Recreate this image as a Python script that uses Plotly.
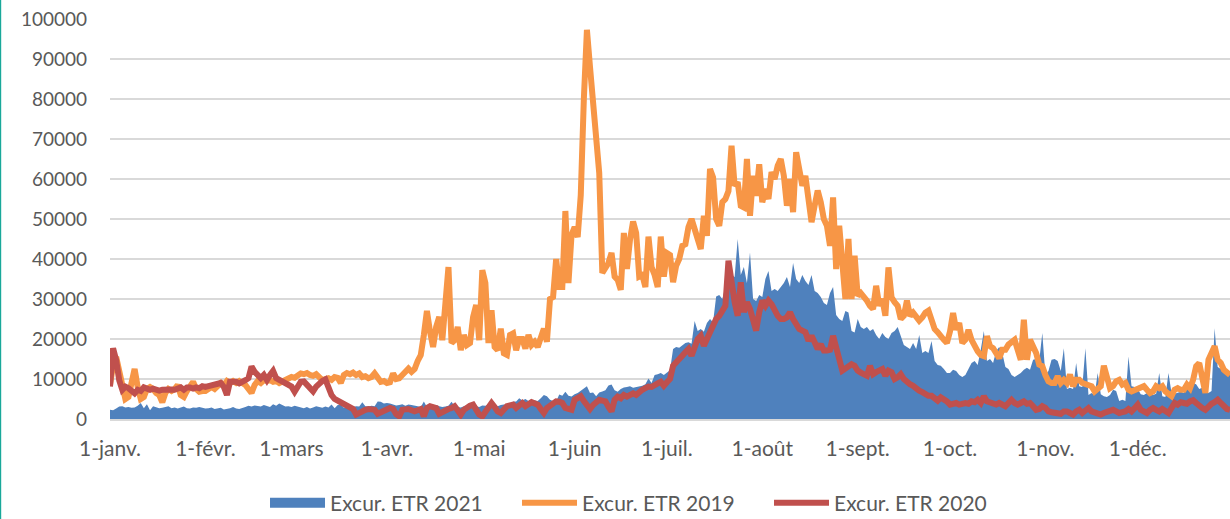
import plotly.graph_objects as go

# ---- axis ticks ----
month_ticks = [0, 31, 59, 90, 120, 151, 181, 212, 243, 273, 304, 334]
month_labels = ["1-janv.", "1-févr.", "1-mars", "1-avr.", "1-mai", "1-juin",
                "1-juil.", "1-août", "1-sept.", "1-oct.", "1-nov.", "1-déc."]
y_ticks = [0, 10000, 20000, 30000, 40000, 50000, 60000, 70000, 80000, 90000, 100000]

# ---- Excur. ETR 2021 (area) ----
jan21 = [2300,2200,2600,3100,3200,2900,3000,2800,2900,3300,4000,2700,3700,2200,3200,2900,2700,2800,3000,3200,2700,2900,2600,2800,3100,2700,2600,2900,2800,3000,2700]
feb21 = [2600,2700,2900,2500,2600,2800,2400,2500,2700,3000,2600,2500,2700,3000,3300,3100,3400,3200,3100,3500,3200,3000,3700,3300,3900,3400,3100,3200]
mar21 = [3000,3300,3100,2800,2700,3000,2600,2900,3200,3000,2800,3100,2900,3600,2700,3500,3600,2800,2900,3200,3000,3200,3100,4200,3200,3100,3300,3200,4400,4300,3900]
apr21 = [4000,3900,3600,3400,3500,3700,3300,3600,3500,3400,3200,3000,4400,3000,3200,3100,3500,3200,3000,3100,3300,4300,3200,3000,2900,3200,3100,3300,4300,3200]
may21 = [3000,3400,3300,3600,3500,3400,3200,3500,3600,3500,4000,4300,4400,5200,4600,5000,4500,4300,4600,4500,5200,6000,5700,4800,4500,4400,6100,5800,6800,5800,5600]
jun21 = [6200,6500,7000,7700,8200,6500,6600,5700,6600,6900,7200,8400,8600,7200,6800,7500,7900,8000,8200,7800,8000,8100,8300,8700,10100,9000,11000,11200,11500,11000]
jul21 = [11500,12200,17500,18000,17800,18500,19000,19200,18800,24500,22000,22500,21800,24000,25000,24200,30600,31000,30000,33000,36500,36000,35500,45000,36000,38000,34000,41600,30000,29500,31000]
aug21 = [30500,35000,37000,32000,32500,32000,33000,34000,35500,33000,39000,35000,34000,36000,34500,33500,36000,32000,31500,30500,29000,28500,31500,33000,26000,25000,24500,27000,26600,22000,21600]
sep21 = [25000,23000,22500,23000,22000,22500,21000,20000,21500,20500,20000,21500,22000,23000,20600,18500,18000,17500,19000,17500,21000,16500,17000,16500,19500,14500,13500,13300,12500,11500]
oct21 = [11500,12300,12000,11000,10500,11000,12500,14000,14500,13500,17300,22000,14500,15000,14000,17000,18000,16500,13000,12500,11000,10500,11000,11500,12300,12800,12300,14800,15000,14500,21500]
nov21 = [11000,12000,14800,15000,14500,12000,17700,7500,7800,7500,14000,8200,8000,17700,6000,6500,6000,11500,6200,5700,5500,6000,7300,7000,4500,4800,4500,15600,8200,8000]
dec21 = [7500,6200,6000,6500,6200,6000,6300,11500,5700,5500,11500,6500,6300,6500,6800,6500,8700,8500,9000,8700,7500,7800,7200,6500,7000,22700,13000,12500,13000,12300,11000]

# ---- Excur. ETR 2019 (orange line) ----
jan19 = [8500,13500,15500,12000,8000,5000,5500,9000,12500,8000,5000,5500,7500,8000,7500,6500,6000,4200,6500,7500,7000,7500,8500,6000,5500,7000,8500,9300,7500,6800,7000]
feb19 = [7000,7500,8000,7500,8500,9000,8500,9500,9000,9500,9000,9500,9000,8500,7500,6500,8500,9500,9000,9700,9500,9700,9300,9500,9000,9300,9500,10000]
mar19 = [10500,10300,10700,11400,11200,11500,11000,10800,11200,10500,9700,10000,10200,9800,10500,10300,9000,11000,11500,11200,11600,11000,11400,10500,10700,10200,10500,11400,10500,9300,9500]
apr19 = [9000,9200,11400,10000,10200,11000,12000,12600,11800,12500,14500,16000,21000,27000,21800,18000,23000,25500,19700,28000,38000,19000,19700,23000,17200,21000,18500,19000,25500,28500]
may19 = [19700,37200,34000,19000,27200,18000,17200,22600,16400,16000,21000,21400,17200,20000,20000,17600,21000,18500,19300,18000,20000,22600,19300,30000,30500,40000,33000,33000,52000,34000,46000]
jun19 = [48000,45500,56000,80000,97300,88000,78000,70000,61500,36500,38000,39000,41500,35600,34800,32300,46500,37500,44800,49400,46500,35600,36000,33000,45600,38000,36000,33000,45600,35600]
jul19 = [41500,41000,34200,38300,40000,43300,43700,48000,50000,47500,45000,42500,50800,45800,62500,60400,50000,48300,54200,55000,57000,68300,58300,59200,53300,52900,65000,50800,60800,55800,63700]
aug19 = [54200,57500,55000,61700,60000,63300,65000,60800,53300,60000,51700,66700,63300,58300,60800,54200,49200,53300,57100,54200,50000,48300,43300,55400,37500,48300,40000,30000,45000,30000,40800]
sep19 = [30800,31500,30800,29600,28300,27500,33300,28300,30000,25800,37900,30400,29200,28300,25000,25800,29600,25800,26600,25800,24600,25400,26600,27100,24200,22500,21700,20400,19800,19000]
oct19 = [21900,26500,22300,24000,19000,19800,22300,19800,18200,16900,16000,15700,20700,18200,17700,16500,15200,17300,17300,18600,19000,19800,17300,14800,24800,14800,19800,18200,16500,13600,13200]
nov19 = [11000,9400,9000,9000,10700,9000,9800,9000,11100,8200,9800,9800,9000,8600,8200,8200,6900,7500,8200,13300,10700,7700,8200,9400,9800,8600,9000,7300,6900,7300]
dec19 = [7300,7700,8200,7300,6500,6900,8200,7700,8200,6900,6500,5700,7300,7700,7300,7300,8600,7700,9800,13200,14000,10700,6500,14800,16500,18200,14800,14000,12300,11500,11000]

# ---- Excur. ETR 2020 (red line) ----
jan20 = [8100,17700,14700,9700,7300,8100,7700,6800,6400,7300,7000,7900,7600,7300,7600,7300,7100,7300,7400,7300,7400,7300,7600,7900,7300,7900,7900,7600,7900,7700,8200]
feb20 = [8000,8200,8400,8500,8900,9000,8000,6000,9300,9300,9300,8900,9500,9700,10200,13100,11800,11000,10200,11000,9700,11000,12000,10200,9700,9300,8800,8500]
mar20 = [8100,6800,8500,9300,9400,8500,8000,6900,8100,9000,9500,9900,7700,6000,5000,4600,4200,3800,3300,2800,2500,1100,1600,2200,2300,2500,2400,2300,1300,1700,1900]
apr20 = [2600,2750,2500,1200,670,2300,2400,2500,2200,1900,2200,2500,670,2750,3200,3000,2750,1300,1800,2300,2500,2750,3200,2200,1100,2300,2900,3300,3600,2500]
may20 = [1100,670,2000,2750,4000,3000,1900,1500,2300,3200,3400,3600,2750,3400,4000,3200,3700,4200,3900,3600,2500,1500,2750,3200,3800,4400,4300,4000,2750,2500,2300]
jun20 = [4800,5200,5700,4500,3600,2500,3500,4400,4800,4600,4400,3000,1900,4800,5600,5200,6000,5600,6200,6400,6000,6800,7300,7700,8100,8000,8600,8900,9300,8300]
jul20 = [9200,10000,13300,14000,15000,15800,16700,17500,15800,18300,20000,20800,18300,20000,21500,23700,25000,25800,27500,28300,39600,33300,29200,25800,34200,26700,29200,27500,25000,22100,26700]
aug20 = [29600,28300,29600,28700,27100,25800,25000,25000,25400,26700,25000,23300,22500,22100,21700,19600,20800,19200,17500,18700,17100,17100,17300,20800,17100,15000,12100,12500,12900,13700,13300]
sep20 = [12100,11600,11200,10800,13300,11200,11700,12100,12500,10800,12100,11700,10000,10400,11200,10000,9200,8700,8300,7500,7100,6700,6200,5800,5800,5400,4600,5400,5000,4400]
oct20 = [3600,4000,4000,3600,3800,4000,3800,4400,4200,4800,4000,5700,4400,4000,4000,3600,4000,3500,3200,4000,4800,4000,3600,4000,4400,3800,4000,3200,2300,2500,3200]
nov20 = [2800,1900,1700,1500,1400,1300,1900,1900,1500,1100,1900,2300,1500,2300,2750,1900,1500,1300,1100,1500,1900,2150,2300,1900,1500,1700,1900,2500,1900,2700]
dec20 = [3600,2300,1900,1500,2300,2750,2300,1900,2500,1800,1500,2750,4000,3600,4200,4000,3800,4400,4700,4000,3200,2750,2300,3200,3800,4200,4800,4000,3200,2500,2300]

v2021 = jan21 + feb21 + mar21 + apr21 + may21 + jun21 + jul21 + aug21 + sep21 + oct21 + nov21 + dec21
v2019 = jan19 + feb19 + mar19 + apr19 + may19 + jun19 + jul19 + aug19 + sep19 + oct19 + nov19 + dec19
v2020 = jan20 + feb20 + mar20 + apr20 + may20 + jun20 + jul20 + aug20 + sep20 + oct20 + nov20 + dec20

days21 = list(range(len(v2021)))
days19 = list(range(len(v2019)))
days20 = list(range(len(v2020)))

TXT = "#595959"
FONT = "Lato, 'Open Sans', sans-serif"
BLUE = "#4F81BD"
ORANGE = "#F79646"
RED = "#C0504D"

fig = go.Figure()
# legend-only entry giving the 2021 series a box-like swatch
fig.add_trace(go.Scatter(
    x=[None], y=[None], name="Excur. ETR 2021", mode="lines",
    line=dict(width=14, color=BLUE), hoverinfo="skip"))
fig.add_trace(go.Scatter(
    x=days21, y=v2021, name="Excur. ETR 2021", mode="lines", showlegend=False,
    line=dict(width=0, color=BLUE), fill="tozeroy", fillcolor=BLUE))
fig.add_trace(go.Scatter(
    x=days19, y=v2019, name="Excur. ETR 2019", mode="lines",
    line=dict(width=6, color=ORANGE)))
fig.add_trace(go.Scatter(
    x=days20, y=v2020, name="Excur. ETR 2020", mode="lines",
    line=dict(width=6, color=RED)))

fig.update_layout(
    width=1230, height=519,
    margin=dict(l=110, r=0, t=19, b=100, autoexpand=False),
    paper_bgcolor="white", plot_bgcolor="white",
    font=dict(family=FONT, size=20, color=TXT),
    showlegend=True,
    legend=dict(orientation="h", x=0.1384, xanchor="left", y=-0.21, yanchor="middle",
                font=dict(family=FONT, size=21, color=TXT),
                itemwidth=55,
                entrywidth=182, entrywidthmode="pixels",
                bgcolor="rgba(0,0,0,0)"),
    xaxis=dict(range=[0, 364], tickmode="array", tickvals=month_ticks, ticktext=month_labels,
               showgrid=False, zeroline=False, showline=True, linecolor="#D9D9D9", linewidth=1.5,
               ticks="", ticklabelstandoff=10, automargin=False,
               tickfont=dict(family=FONT, size=21, color=TXT)),
    yaxis=dict(range=[0, 100000], tickmode="array", tickvals=y_ticks,
               ticktext=[str(v) for v in y_ticks],
               showgrid=True, gridcolor="#D9D9D9", gridwidth=1.5, zeroline=False,
               showline=False, ticks="", ticklabelstandoff=22, automargin=False,
               tickfont=dict(family=FONT, size=19, color=TXT)),
    shapes=[dict(type="rect", xref="paper", yref="paper",
                 x0=-110/1120, x1=-108.8/1120, y0=-100/400, y1=419/400,
                 fillcolor="#19A89A", line=dict(width=0))],
)

fig.write_html("out.html",
               config={"displayModeBar": False},
               post_script="document.body.style.margin='0';document.body.style.overflow='hidden';")
